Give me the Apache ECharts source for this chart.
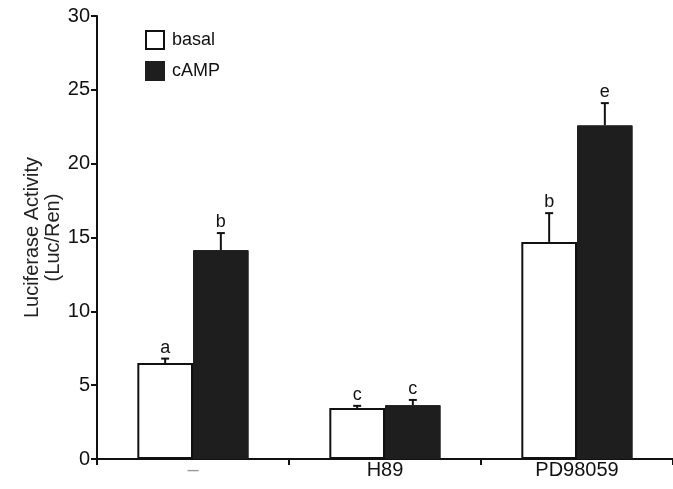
<!DOCTYPE html>
<html>
<head>
<meta charset="utf-8">
<script src="https://cdn.jsdelivr.net/npm/echarts@6/dist/echarts.min.js"></script>
<style>
html,body{margin:0;padding:0;background:#fff;}
#chart{width:673px;height:489px;}
</style>
</head>
<body>
<div id="chart"></div>
<script>
// groups on the x axis
var categories = ['-', 'H89', 'PD98059'];
// mean values
var basalVals = [6.5, 3.45, 14.7];
var campVals = [14.15, 3.65, 22.6];
// top of the error bars
var basalErr = [6.8, 3.6, 16.65];
var campErr = [15.3, 4.0, 24.1];
// significance letters
var basalLetters = ['a', 'c', 'b'];
var campLetters = ['b', 'c', 'e'];
var yTicks = [0, 5, 10, 15, 20, 25, 30];

var FONT = 'Liberation Sans';
var BAR_W = 0.29; // fraction of a category

var myChart = echarts.init(document.getElementById('chart'));

// error bar + letter, shifted left (-1) or right (+1) of the group centre
function errRender(side, letters) {
    return function (params, api) {
        var i = api.value(0);
        var base = api.coord([i, api.value(1)]);
        var top = api.coord([i, api.value(2)]);
        var w = api.size([1, 0])[0] * BAR_W;
        var x = base[0] + side * w / 2;
        return {
            type: 'group',
            children: [
                {type: 'line', shape: {x1: x, y1: base[1], x2: x, y2: top[1]},
                    style: {stroke: '#111', lineWidth: 2}},
                {type: 'line', shape: {x1: x - 4, y1: top[1], x2: x + 4, y2: top[1]},
                    style: {stroke: '#111', lineWidth: 2}},
                {type: 'text', x: x, y: top[1] - 2,
                    style: {text: letters[i], fill: '#111', font: '18px ' + FONT,
                        align: 'center', verticalAlign: 'bottom'}}
            ]
        };
    };
}

function errData(means, tops) {
    var d = [];
    for (var i = 0; i < means.length; i++) d.push([i, means[i], tops[i]]);
    return d;
}

var option = {
    animation: false,
    backgroundColor: '#fff',
    textStyle: {fontFamily: FONT},
    legend: {
        orient: 'vertical',
        left: 140,
        top: 25,
        icon: 'rect',
        itemWidth: 18,
        itemHeight: 18,
        itemGap: 11,
        data: ['basal', 'cAMP'],
        textStyle: {fontSize: 18, color: '#111', fontFamily: FONT, padding: [0, 0, 0, 3]}
    },
    grid: {left: 97, right: 0, top: 16, bottom: 30},
    xAxis: {
        type: 'category',
        data: categories,
        axisLine: {lineStyle: {color: '#111', width: 2}},
        axisTick: {show: true, length: 6, lineStyle: {color: '#111', width: 2}},
        axisLabel: {
            fontSize: 20, color: '#111', margin: 1, fontFamily: FONT,
            formatter: function (v) { return v === '-' ? '{g|–}' : v; },
            rich: {g: {color: '#999', fontSize: 20, fontFamily: FONT}}
        }
    },
    yAxis: {
        type: 'value',
        min: 0,
        max: 30,
        interval: 5,
        name: 'Luciferase Activity\n(Luc/Ren)',
        nameLocation: 'middle',
        nameGap: 33,
        nameMoveOverlap: false,
        nameTextStyle: {fontSize: 20, color: '#222', fontFamily: FONT, lineHeight: 21},
        axisLine: {show: true, lineStyle: {color: '#111', width: 2}},
        axisTick: {show: true, length: 6, lineStyle: {color: '#111', width: 2}},
        axisLabel: {fontSize: 20, color: '#111', margin: 7, fontFamily: FONT,
            formatter: function (v) { return yTicks.indexOf(v) >= 0 ? String(v) : ''; }},
        splitLine: {show: false}
    },
    series: [
        {
            name: 'basal',
            type: 'bar',
            barWidth: (BAR_W * 100) + '%',
            barGap: '0%',
            itemStyle: {color: '#fff', borderColor: '#111', borderWidth: 2},
            data: basalVals,
            z: 2
        },
        {
            name: 'cAMP',
            type: 'bar',
            barWidth: (BAR_W * 100) + '%',
            barGap: '0%',
            itemStyle: {color: '#1e1e1e', borderColor: '#1e1e1e', borderWidth: 1},
            data: campVals,
            z: 2
        },
        {
            type: 'custom',
            renderItem: errRender(-1, basalLetters),
            data: errData(basalVals, basalErr),
            encode: {x: 0, y: [1, 2]},
            z: 3
        },
        {
            type: 'custom',
            renderItem: errRender(1, campLetters),
            data: errData(campVals, campErr),
            encode: {x: 0, y: [1, 2]},
            z: 3
        }
    ]
};
myChart.setOption(option);
window.addEventListener('resize', function () {
    myChart.resize();
});
</script>
</body>
</html>
